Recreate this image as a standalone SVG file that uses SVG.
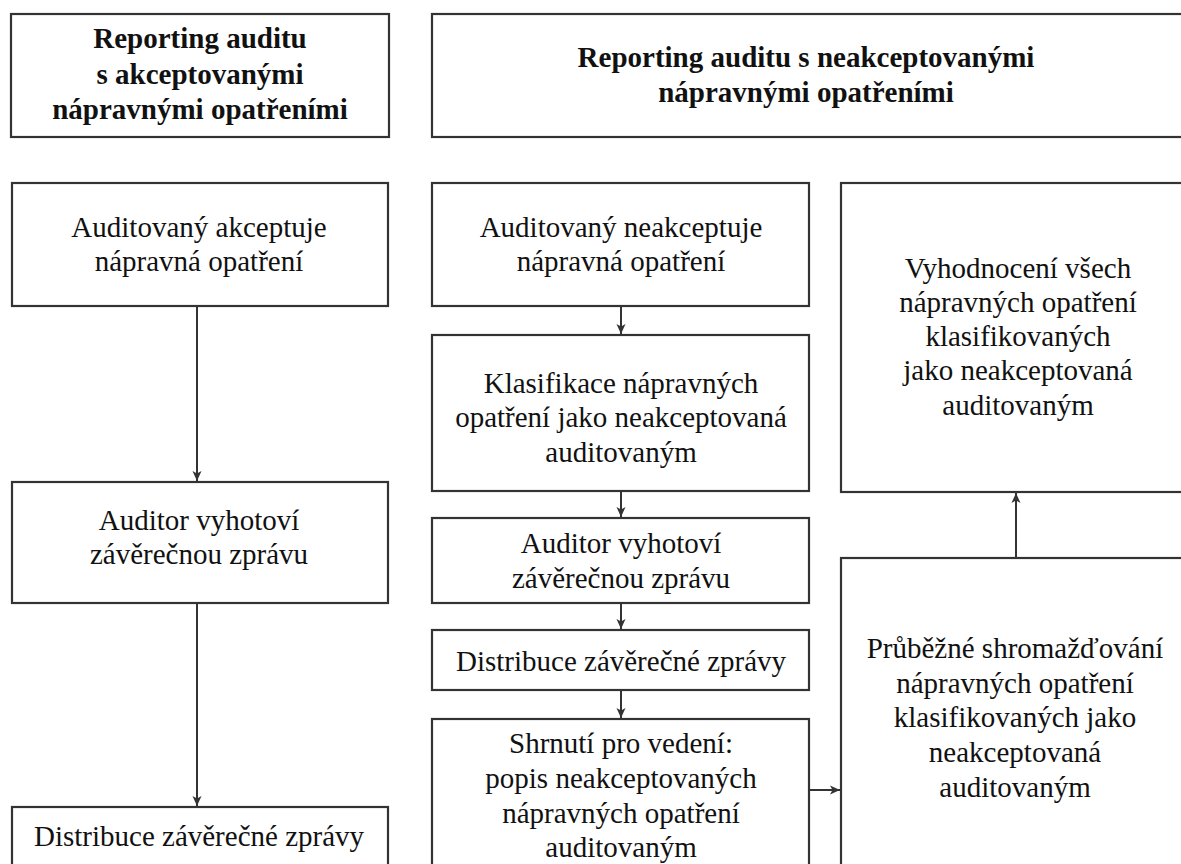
<svg xmlns="http://www.w3.org/2000/svg" width="1181" height="864" viewBox="0 0 1181 864">
<defs>
<style>
.box{fill:#fff;stroke:#333;stroke-width:2.2}
text{font-family:'Liberation Serif','Times New Roman',serif;font-size:29px;fill:#111;text-anchor:middle}
.h{font-weight:bold}
.c{fill:none;stroke:#333;stroke-width:2}
</style>
<marker id="ah" markerWidth="11" markerHeight="11" refX="10" refY="5.5" orient="auto" markerUnits="userSpaceOnUse">
<path d="M0,1 L10,5.5 L0,10 L2.5,5.5 Z" fill="#333"/>
</marker>
</defs>
<rect width="1181" height="864" fill="#fff"/>
<g id="hdr-left">
<rect class="box" x="11" y="14" width="378" height="123"/>
<text class="h" x="200" y="48">Reporting auditu</text>
<text class="h" x="200" y="84">s akceptovanými</text>
<text class="h" x="200" y="119">nápravnými opatřeními</text>
</g>
<g id="hdr-right">
<rect class="box" x="432" y="14" width="760" height="123"/>
<text class="h" x="806" y="67">Reporting auditu s neakceptovanými</text>
<text class="h" x="806" y="102">nápravnými opatřeními</text>
</g>
<g id="l1">
<rect class="box" x="12" y="183" width="376" height="123"/>
<text x="199" y="237">Auditovaný akceptuje</text>
<text x="199" y="271">nápravná opatření</text>
</g>
<g id="l2">
<rect class="box" x="12" y="482" width="376" height="121"/>
<text x="199" y="530">Auditor vyhotoví</text>
<text x="199" y="564">závěrečnou zprávu</text>
</g>
<g id="l3">
<rect class="box" x="12" y="807" width="376" height="80"/>
<text x="199" y="846">Distribuce závěrečné zprávy</text>
</g>
<g id="m1">
<rect class="box" x="432" y="183" width="377" height="123"/>
<text x="621" y="237">Auditovaný neakceptuje</text>
<text x="621" y="271">nápravná opatření</text>
</g>
<g id="m2">
<rect class="box" x="432" y="335" width="377" height="156"/>
<text x="621" y="393">Klasifikace nápravných</text>
<text x="621" y="427">opatření jako neakceptovaná</text>
<text x="621" y="462">auditovaným</text>
</g>
<g id="m3">
<rect class="box" x="432" y="518" width="377" height="85"/>
<text x="621" y="553">Auditor vyhotoví</text>
<text x="621" y="588">závěrečnou zprávu</text>
</g>
<g id="m4">
<rect class="box" x="432" y="630" width="377" height="60"/>
<text x="621" y="671">Distribuce závěrečné zprávy</text>
</g>
<g id="m5">
<rect class="box" x="432" y="719" width="377" height="170"/>
<text x="621" y="753">Shrnutí pro vedení:</text>
<text x="621" y="788">popis neakceptovaných</text>
<text x="621" y="823">nápravných opatření</text>
<text x="621" y="857">auditovaným</text>
</g>
<g id="r1">
<rect class="box" x="841" y="183" width="360" height="309"/>
<text x="1018" y="278">Vyhodnocení všech</text>
<text x="1018" y="312">nápravných opatření</text>
<text x="1018" y="346">klasifikovaných</text>
<text x="1018" y="380">jako neakceptovaná</text>
<text x="1018" y="415">auditovaným</text>
</g>
<g id="r2">
<rect class="box" x="841" y="558" width="360" height="330"/>
<text x="1015" y="658">Průběžné shromažďování</text>
<text x="1015" y="693">nápravných opatření</text>
<text x="1015" y="727">klasifikovaných jako</text>
<text x="1015" y="762">neakceptovaná</text>
<text x="1015" y="797">auditovaným</text>
</g>
<g id="connectors">
<line class="c" x1="197" y1="307" x2="197" y2="481" marker-end="url(#ah)"/>
<line class="c" x1="197" y1="604" x2="197" y2="806" marker-end="url(#ah)"/>
<line class="c" x1="621" y1="307" x2="621" y2="334" marker-end="url(#ah)"/>
<line class="c" x1="621" y1="492" x2="621" y2="517" marker-end="url(#ah)"/>
<line class="c" x1="621" y1="604" x2="621" y2="629" marker-end="url(#ah)"/>
<line class="c" x1="621" y1="691" x2="621" y2="718" marker-end="url(#ah)"/>
<line class="c" x1="810" y1="790" x2="840" y2="790" marker-end="url(#ah)"/>
<line class="c" x1="1016" y1="557" x2="1016" y2="493" marker-end="url(#ah)"/>
</g>
</svg>
